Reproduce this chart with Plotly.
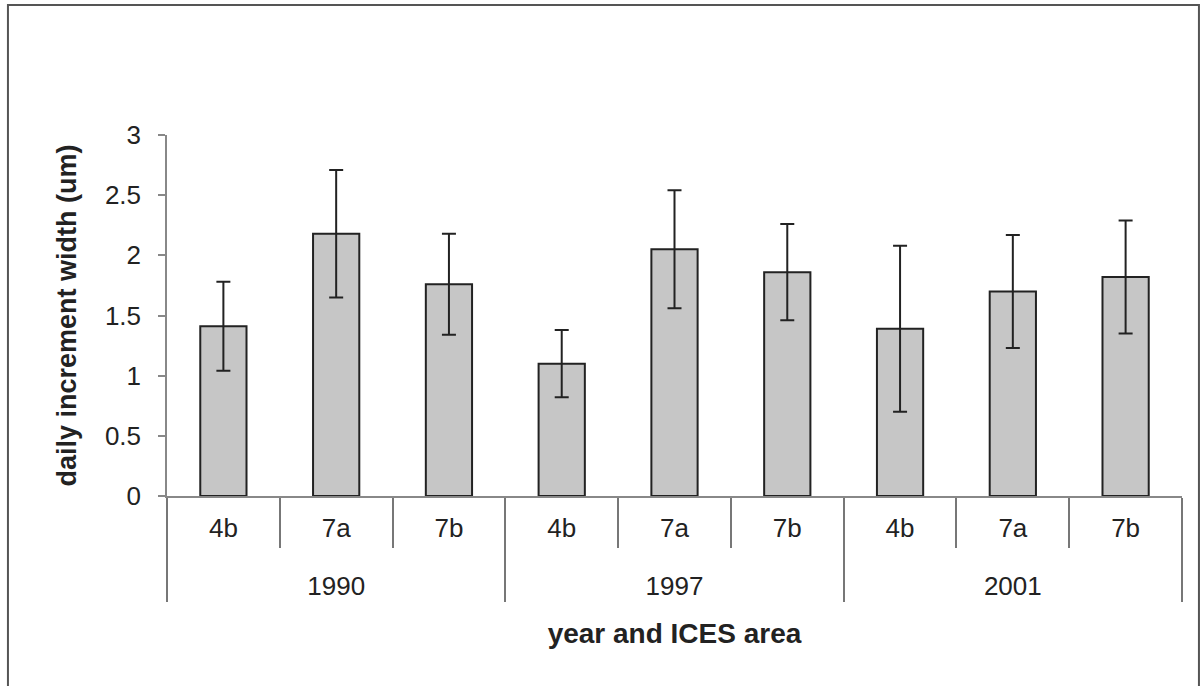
import plotly.graph_objects as go

years = ["1990", "1990", "1990", "1997", "1997", "1997", "2001", "2001", "2001"]
areas = ["4b", "7a", "7b", "4b", "7a", "7b", "4b", "7a", "7b"]
means = [1.41, 2.18, 1.76, 1.10, 2.05, 1.86, 1.39, 1.70, 1.82]
errors = [0.37, 0.53, 0.42, 0.28, 0.49, 0.40, 0.69, 0.47, 0.47]
y_ticks = [0, 0.5, 1, 1.5, 2, 2.5, 3]
y_tick_text = ["0", "0.5", "1", "1.5", "2", "2.5", "3"]

FONT = "Liberation Sans, Arial, Helvetica, sans-serif"

# a blank second line under each area label leaves room above the year row
area_labels = [a + "<br>\u00a0" for a in areas]

fig = go.Figure()
fig.add_trace(go.Bar(
    x=[years, area_labels],
    y=means,
    marker=dict(color="#c6c6c6", line=dict(color="#222222", width=2)),
    error_y=dict(type="data", array=errors, visible=True,
                 color="#222222", thickness=2, width=7),
    width=0.41,
    showlegend=False,
    hovertext=[f"{y} {a}" for y, a in zip(years, areas)],
))

fig.update_layout(
    width=1203, height=686,
    margin=dict(l=167, r=21, t=135, b=190, autoexpand=False),
    paper_bgcolor="white", plot_bgcolor="white",
    font=dict(family=FONT, color="#222222"),
    xaxis=dict(
        type="multicategory",
        showline=True, linecolor="#888888", linewidth=1.5,
        ticks="outside", tickson="boundaries", ticklen=50,
        tickcolor="#777777", tickwidth=1.5,
        ticklabelstandoff=8,
        showdividers=True, dividercolor="#777777", dividerwidth=1.5,
        tickfont=dict(size=26, color="#222222"),
        showgrid=False,
        title=dict(text="<b>year and ICES area</b>", font=dict(size=28, color="#222222"),
                   standoff=24),
        automargin=False,
    ),
    yaxis=dict(
        range=[0, 3],
        tickvals=y_ticks, ticktext=y_tick_text,
        showline=True, linecolor="#888888", linewidth=1.5,
        ticks="outside", ticklen=7, tickcolor="#888888", tickwidth=1.5,
        ticklabelstandoff=12,
        tickfont=dict(size=26, color="#222222"),
        showgrid=False, zeroline=False,
        title=dict(text="<b>daily increment width (um)</b>", font=dict(size=27, color="#222222"),
                   standoff=20),
        automargin=False,
    ),
    shapes=[dict(type="rect", xref="paper", yref="paper",
                 x0=-0.1567, x1=1.0167, y0=-0.53, y1=1.360,
                 line=dict(color="#555555", width=2), fillcolor="rgba(0,0,0,0)")],
)

fig.write_html("out.html")
